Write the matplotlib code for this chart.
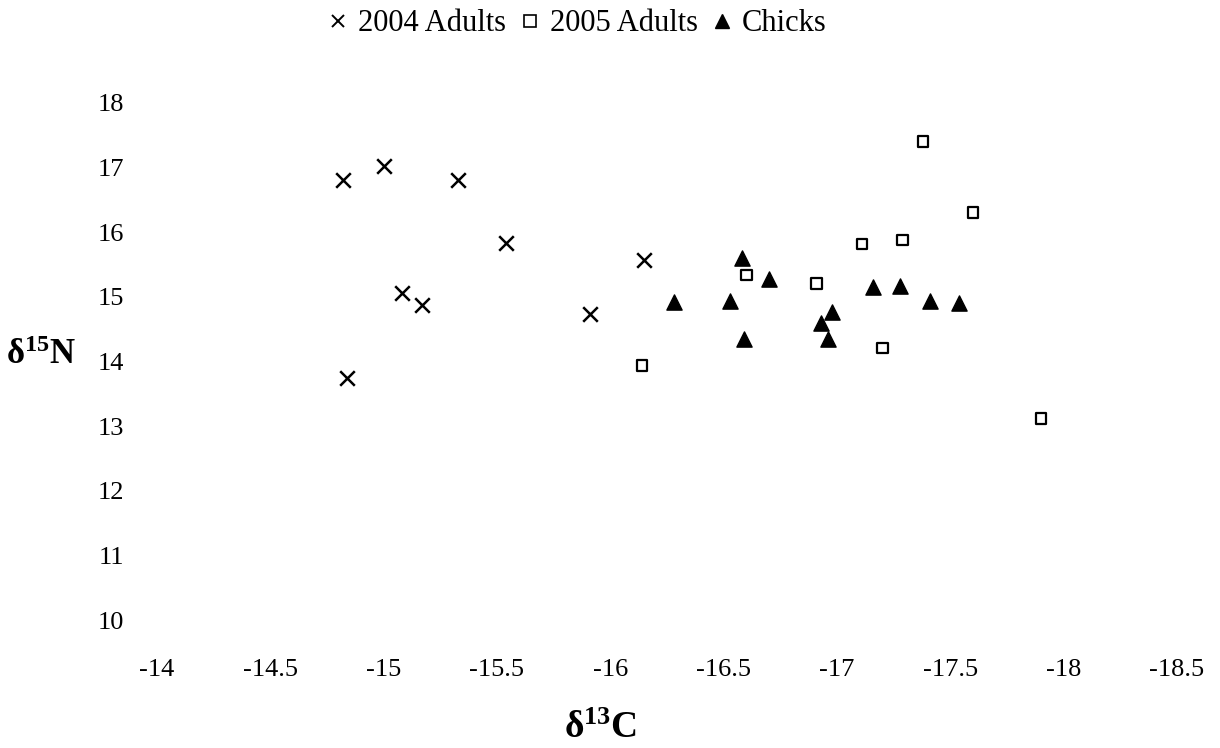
import numpy as np
import matplotlib.pyplot as plt
from matplotlib.lines import Line2D

plt.rcParams['font.family'] = ['Liberation Serif', 'DejaVu Serif']
plt.rcParams['axes.unicode_minus'] = False
plt.rcParams['mathtext.fontset'] = 'custom'
plt.rcParams['mathtext.rm'] = 'Liberation Serif'
plt.rcParams['mathtext.bf'] = 'Liberation Serif:bold'
plt.rcParams['mathtext.it'] = 'Liberation Serif:italic'

# stable isotope values (d13C, d15N)
adults04_c = [-14.82, -15.00, -15.33, -15.54, -15.08, -15.17, -15.91, -16.15, -14.84]
adults04_n = [16.81, 17.02, 16.81, 15.83, 15.06, 14.87, 14.73, 15.57, 13.74]

adults05_c = [-17.38, -17.60, -17.11, -17.29, -16.60, -16.91, -17.20, -17.90, -16.14]
adults05_n = [17.41, 16.30, 15.82, 15.88, 15.34, 15.21, 14.21, 13.12, 13.94]

chicks_c = [-16.58, -16.70, -16.53, -16.59, -16.98, -16.93, -16.96, -17.16,
            -17.28, -17.41, -17.54, -16.28]
chicks_n = [15.60, 15.28, 14.93, 14.35, 14.76, 14.59, 14.35, 15.15,
            15.17, 14.93, 14.90, 14.92]

x_ticks = [-14, -14.5, -15, -15.5, -16, -16.5, -17, -17.5, -18, -18.5]
x_labels = ['-14', '-14.5', '-15', '-15.5', '-16', '-16.5', '-17', '-17.5', '-18', '-18.5']
y_ticks = [10, 11, 12, 13, 14, 15, 16, 17, 18]

fig = plt.figure(figsize=(12.2, 7.48), dpi=100)
ax = fig.add_axes([0.1287, 0.1711, 0.836, 0.6912])

ax.scatter(adults04_c, adults04_n, marker='x', s=110, c='black', linewidths=1.8)
ax.scatter(adults05_c, adults05_n, marker='s', s=60, facecolors='none',
           edgecolors='black', linewidths=1.6)
ax.scatter(chicks_c, chicks_n, marker='^', s=120, c='black')

ax.set_xlim(-14, -18.5)
ax.set_ylim(10, 18)
ax.set_xticks(x_ticks)
ax.set_xticklabels(x_labels)
ax.set_yticks(y_ticks)
ax.tick_params(axis='both', length=0, labelsize=19)
ax.tick_params(axis='x', pad=28)
ax.tick_params(axis='y', pad=24)
for s in ax.spines.values():
    s.set_visible(False)

fig.text(0.492, 0.003, r'$\mathbf{\delta^{13}C}$', fontsize=27, ha='center', va='bottom')
fig.text(0.005, 0.525, r'$\mathbf{\delta^{15}N}$', fontsize=25, ha='left', va='center')

handles = [
    Line2D([], [], marker='x', linestyle='none', color='black', markersize=9, markeredgewidth=1.4),
    Line2D([], [], marker='s', linestyle='none', markerfacecolor='none',
           markeredgecolor='black', markersize=8, markeredgewidth=1.2),
    Line2D([], [], marker='^', linestyle='none', color='black', markersize=10),
]
fig.legend(handles, ['2004 Adults', '2005 Adults', 'Chicks'], loc='center',
           bbox_to_anchor=(0.4735, 0.968), ncol=3, frameon=False, fontsize=22,
           handlelength=0.6, handletextpad=0.35, columnspacing=0.5)

plt.savefig('out.png', dpi=100)
